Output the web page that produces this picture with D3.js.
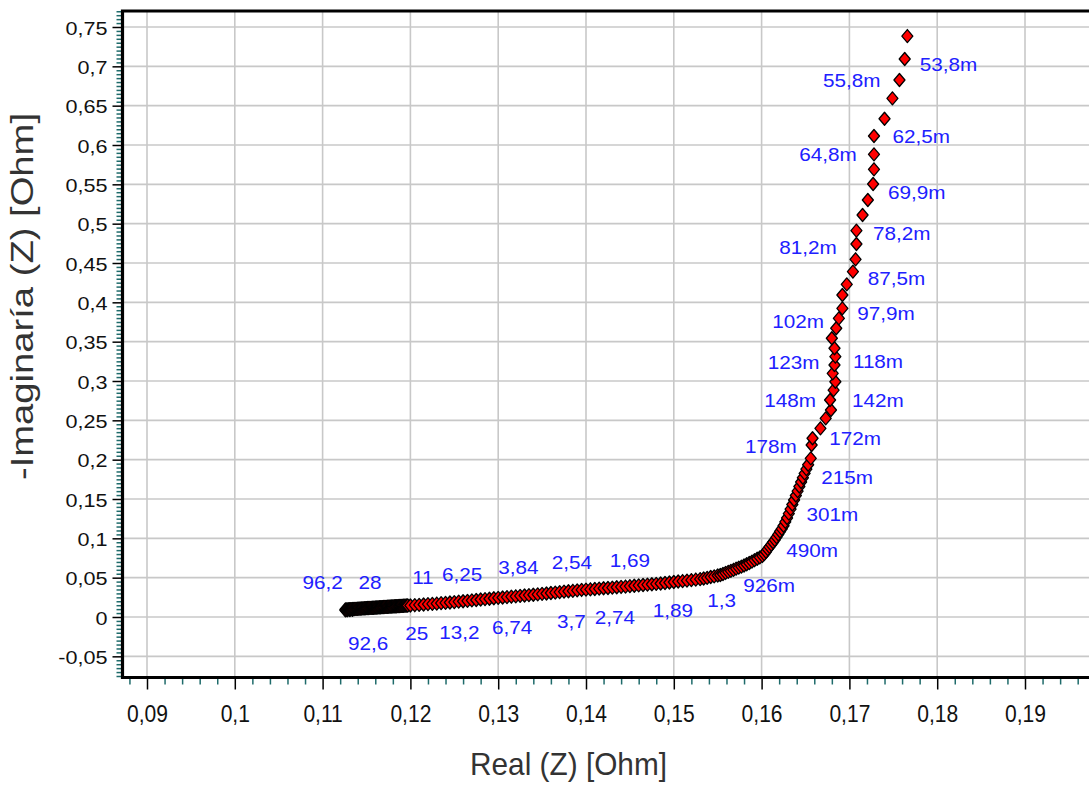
<!DOCTYPE html>
<html>
<head>
<meta charset="utf-8">
<script src="https://cdn.jsdelivr.net/npm/d3@7"></script>
<style>
  body { margin: 0; background: #fff; }
  svg { display: block; }
</style>
</head>
<body>
<div id="chart"></div>
<script>
// impedance points, high frequency (left) to low frequency (top)
const re = [
  0.1126,0.1128,0.1131,0.1134,
  0.1126,0.1127,0.1128,0.1129,0.1130,0.1131,0.1132,0.1133,0.1134,0.1135,0.1136,0.1137,
  0.1138,0.1139,0.1140,0.1141,0.1142,0.1143,0.1144,0.1145,0.1146,0.1147,0.1148,0.1149,
  0.1150,0.1151,0.1152,0.1153,0.1154,0.1155,0.1156,0.1157,0.1158,0.1159,0.1160,0.1161,
  0.1162,0.1163,0.1164,0.1165,0.1166,0.1167,0.1168,0.1169,0.1170,0.1171,0.1172,0.1173,
  0.1174,0.1175,0.1176,0.1177,0.1178,0.1179,0.1180,0.1181,0.1182,0.1183,0.1184,0.1185,
  0.1186,0.1187,0.1188,0.1189,0.1190,0.1191,0.1192,0.1193,0.1194,0.1195,0.1196,0.1197,
  0.1200,0.1205,0.1210,0.1215,0.1220,0.1225,0.1230,0.1235,0.1240,0.1245,
  0.1250,0.1255,0.1260,0.1265,0.1270,0.1275,0.1280,0.1285,0.1290,0.1295,0.1300,
  0.1305,0.1310,0.1315,0.1320,0.1325,0.1330,0.1335,0.1340,0.1345,0.1350,
  0.1355,0.1360,0.1365,0.1370,0.1375,0.1380,0.1385,0.1390,0.1395,
  0.1400,0.1405,0.1410,0.1415,0.1420,0.1425,0.1430,0.1435,0.1440,
  0.1445,0.1450,0.1455,0.1460,0.1465,0.1470,0.1475,0.1480,0.1485,
  0.1490,0.1495,0.1500,0.1505,0.1510,0.1515,0.1520,0.1525,0.1530,
  0.1534,0.1538,0.1542,0.1546,0.1550,0.1553,
  0.1556,0.1559,0.1562,0.1565,0.1568,0.1571,0.1574,0.1577,
  0.1580,0.1583,0.1586,0.1589,0.1592,0.1595,0.1598,0.1601,
  0.1603,0.1605,0.1607,0.1609,0.1611,0.1613,0.1615,
  0.1617,0.1619,0.1621,0.1623,0.1625,0.1627,0.1629,
  0.1631,0.1633,0.1635,0.1637,0.1639,0.1641,0.1643,0.1645,
  0.1647,0.1649,0.1651,0.1653,
  0.1656,0.1657,0.1658,0.1667,0.1673,0.1679,0.1678,0.1682,0.1684,0.1681,0.1683,0.1684,
  0.1683,0.1680,0.1685,0.1688,0.1692,0.1692,0.1697,0.1704,0.1707,0.1708,0.1708,0.1715,
  0.1721,0.1727,0.1728,0.1728,0.1728,0.1740,0.1749,0.1757,0.1763,0.1766
];
const im = [
  0.0084,0.0086,0.0088,0.0090,
  0.0095,0.0096,0.0096,0.0097,0.0098,0.0099,0.0099,0.0100,0.0101,0.0101,0.0102,0.0103,
  0.0104,0.0104,0.0105,0.0106,0.0107,0.0107,0.0108,0.0109,0.0110,0.0110,0.0111,0.0112,
  0.0113,0.0114,0.0114,0.0115,0.0116,0.0116,0.0117,0.0118,0.0118,0.0119,0.0120,0.0121,
  0.0121,0.0122,0.0123,0.0124,0.0124,0.0125,0.0126,0.0127,0.0127,0.0128,0.0129,0.0129,
  0.0130,0.0131,0.0132,0.0132,0.0133,0.0134,0.0135,0.0135,0.0136,0.0137,0.0137,0.0138,
  0.0139,0.0140,0.0140,0.0141,0.0142,0.0142,0.0143,0.0144,0.0144,0.0145,0.0146,0.0146,
  0.0146,0.0150,0.0154,0.0159,0.0163,0.0167,0.0171,0.0176,0.0180,0.0184,
  0.0189,0.0195,0.0200,0.0205,0.0211,0.0216,0.0222,0.0227,0.0232,0.0238,0.0243,
  0.0248,0.0253,0.0258,0.0263,0.0268,0.0273,0.0278,0.0283,0.0288,0.0294,
  0.0299,0.0305,0.0310,0.0316,0.0322,0.0327,0.0333,0.0338,0.0344,
  0.0348,0.0352,0.0356,0.0361,0.0365,0.0369,0.0373,0.0378,0.0382,
  0.0387,0.0392,0.0397,0.0402,0.0407,0.0411,0.0416,0.0421,0.0426,
  0.0432,0.0438,0.0445,0.0451,0.0457,0.0463,0.0469,0.0476,0.0482,
  0.0489,0.0498,0.0508,0.0517,0.0527,0.0534,
  0.0547,0.0560,0.0574,0.0587,0.0600,0.0614,0.0627,0.0640,
  0.0655,0.0671,0.0687,0.0704,0.0722,0.0740,0.0757,0.0776,
  0.0800,0.0830,0.0862,0.0892,0.0921,0.0950,0.0980,
  0.1015,0.1051,0.1087,0.1121,0.1160,0.1210,0.1258,
  0.1315,0.1372,0.1430,0.1487,0.1544,0.1601,0.1659,0.1716,
  0.1770,0.1825,0.1880,0.1935,
  0.2017,0.2186,0.2272,0.2398,0.2525,0.2631,0.2758,0.2885,0.2991,0.3097,0.3203,0.3309,
  0.3416,0.3543,0.3670,0.3797,0.3924,0.4093,0.4229,0.4390,0.4547,0.4741,0.4911,0.5110,
  0.5301,0.5504,0.5691,0.5881,0.6114,0.6334,0.6593,0.6826,0.7093,0.7385
];

// frequency annotations (left edge, vertical centre)
const freqText = ["53,8m","55,8m","62,5m","64,8m","69,9m","78,2m","81,2m","87,5m","97,9m","102m",
  "123m","118m","148m","142m","178m","172m","215m","301m","490m","926m",
  "1,3","1,89","2,74","3,7","6,74","13,2","25","92,6",
  "96,2","28","11","6,25","3,84","2,54","1,69"];
const freqRe = [0.1780,0.1670,0.1749,0.1643,0.1744,0.1727,0.1620,0.1721,0.1709,0.1612,
  0.1607,0.1704,0.1603,0.1703,0.1581,0.1677,0.1668,0.1651,0.1628,0.1579,
  0.1538,0.1476,0.1410,0.1367,0.1293,0.1233,0.1194,0.1129,
  0.1077,0.1141,0.1202,0.1236,0.1300,0.1361,0.1427];
const freqIm = [0.7017,0.6826,0.6105,0.5873,0.5390,0.4881,0.4703,0.4309,0.3852,0.3754,
  0.3229,0.3245,0.2758,0.2758,0.2165,0.2275,0.1767,0.1309,0.0845,0.0400,
  0.0216,0.0080,-0.0006,-0.0051,-0.0133,-0.0191,-0.0216,-0.0343,
  0.0439,0.0439,0.0496,0.0534,0.0623,0.0693,0.0712];

const xTicks = [0.09,0.1,0.11,0.12,0.13,0.14,0.15,0.16,0.17,0.18,0.19];
const yTicks = [-0.05,0,0.05,0.1,0.15,0.2,0.25,0.3,0.35,0.4,0.45,0.5,0.55,0.6,0.65,0.7,0.75];

const width = 1089, height = 787;
const plotLeft = 122.5, plotTop = 11, plotBottom = 677.5, plotRight = width;
const minorColor = "#1f6b6b";
const gridColor = "#c8c8c8";
const labelBlue = "#2020ff";

const fmt = d3.formatLocale({decimal: ",", thousands: ".", grouping: [3], currency: ["", ""], minus: "-"}).format(".2~f");

const x = d3.scaleLinear().domain([0.09, 0.19]).range([147, 1025]);
const y = d3.scaleLinear().domain([0, 0.75]).range([617, 27]);

const xMinor = d3.range(88, 197, 2).map(v => v / 1000).filter(v => !xTicks.some(t => Math.abs(t - v) < 1e-9));
const yMinor = d3.range(-75, 771, 5).map(v => v / 1000).filter(v => !yTicks.some(t => Math.abs(t - v) < 1e-9));

const svg = d3.select("#chart").append("svg")
  .attr("width", width)
  .attr("height", height)
  .style("font-family", "'Liberation Sans', Arial, sans-serif");

/** GRID */
const grid = svg.append("g");
grid.selectAll(".gx").data(xTicks).enter().append("line")
  .attr("x1", d => x(d)).attr("x2", d => x(d))
  .attr("y1", plotTop).attr("y2", plotBottom)
  .attr("stroke", gridColor).attr("stroke-width", 1.6);
grid.selectAll(".gy").data(yTicks).enter().append("line")
  .attr("x1", plotLeft).attr("x2", plotRight)
  .attr("y1", d => y(d)).attr("y2", d => y(d))
  .attr("stroke", gridColor).attr("stroke-width", 1.6);

/** AXES */
let yMinorAxis = svg.append("g")
  .attr("transform", `translate(${plotLeft},0)`)
  .call(d3.axisLeft(y).tickValues(yMinor).tickSize(6).tickFormat(""));
yMinorAxis.select(".domain").remove();
yMinorAxis.selectAll("line").attr("stroke", minorColor).attr("stroke-width", 1.5);

let yAxis = svg.append("g")
  .attr("transform", `translate(${plotLeft},0)`)
  .call(d3.axisLeft(y).tickValues(yTicks).tickSize(10).tickFormat(fmt));
yAxis.select(".domain").remove();
yAxis.selectAll("line").attr("stroke", "#000").attr("stroke-width", 1.5);
yAxis.selectAll("text")
  .attr("x", 0).attr("dy", null)
  .attr("transform", "translate(-15,7) scale(1.2,1)")
  .style("font-family", "'Liberation Sans', Arial, sans-serif")
  .style("font-size", "18px")
  .attr("fill", "#111");

let xMinorAxis = svg.append("g")
  .attr("transform", `translate(0,${plotBottom})`)
  .call(d3.axisBottom(x).tickValues(xMinor).tickSize(7).tickFormat(""));
xMinorAxis.select(".domain").remove();
xMinorAxis.selectAll("line").attr("stroke", minorColor).attr("stroke-width", 1.5);

let xAxis = svg.append("g")
  .attr("transform", `translate(0,${plotBottom})`)
  .call(d3.axisBottom(x).tickValues(xTicks).tickSize(12).tickFormat(fmt));
xAxis.select(".domain").remove();
xAxis.selectAll("line").attr("stroke", "#000").attr("stroke-width", 1.5);
xAxis.selectAll("text")
  .attr("y", 0).attr("dy", null)
  .attr("transform", "translate(0,44) scale(1.17,1.35)")
  .style("font-family", "'Liberation Sans', Arial, sans-serif")
  .style("font-size", "18px")
  .attr("fill", "#111");

/** FRAME */
svg.append("path")
  .attr("d", `M${plotRight},${plotTop}H${plotLeft}V${plotBottom}H${plotRight}`)
  .attr("fill", "none")
  .attr("stroke", "#000")
  .attr("stroke-width", 3.2);

/** POINTS */
const pts = re.map((r, i) => ({re: r, im: im[i]}));
svg.append("g")
  .selectAll("path")
  .data(pts).enter()
  .append("path")
  .attr("d", "M0,-6.5L5.5,0L0,6.5L-5.5,0Z")
  .attr("transform", d => `translate(${x(d.re)},${y(d.im)})`)
  .attr("fill", "#ff0000")
  .attr("stroke", "#000")
  .attr("stroke-width", 1.3)
  .attr("stroke-linejoin", "round");

/** FREQUENCY LABELS */
svg.append("g")
  .selectAll("g")
  .data(freqText).enter()
  .append("g")
  .attr("transform", (d, i) => `translate(${x(freqRe[i])},${y(freqIm[i]) + 6.5})`)
  .append("text")
  .attr("transform", "scale(1.15,1)")
  .style("font-size", "18px")
  .attr("fill", labelBlue)
  .text(d => d);

/** AXIS TITLES */
svg.append("text")
  .attr("x", 470)
  .attr("y", 775)
  .attr("textLength", 197)
  .attr("lengthAdjust", "spacingAndGlyphs")
  .style("font-size", "32px")
  .attr("fill", "#333")
  .text("Real (Z) [Ohm]");

svg.append("text")
  .attr("transform", "translate(33,296.5) rotate(-90)")
  .attr("text-anchor", "middle")
  .attr("textLength", 367)
  .attr("lengthAdjust", "spacingAndGlyphs")
  .style("font-size", "32px")
  .attr("fill", "#333")
  .text("-Imaginaría (Z) [Ohm]");
</script>
</body>
</html>
